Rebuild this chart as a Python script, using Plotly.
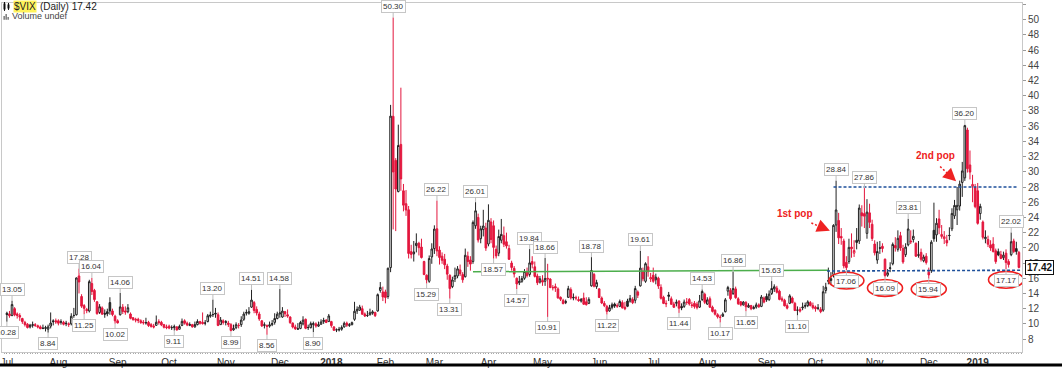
import pandas as pd
import plotly.graph_objects as go

# ---------------- data ----------------
HOLIDAYS = ["2017-07-04", "2017-09-04", "2017-11-23", "2017-12-25", "2018-01-01",
            "2018-01-15", "2018-02-19", "2018-03-30", "2018-05-28", "2018-07-04",
            "2018-09-03", "2018-11-22", "2018-12-05", "2018-12-25", "2019-01-01",
            "2019-01-21"]
START, END = "2017-07-03", "2019-01-25"

OPEN = [
    # Jul 2017
    11.40, 11.30, 11.10, 12.00, 11.30, 11.10, 10.70, 10.20, 9.95, 9.60, 9.80, 9.90, 9.75, 9.60, 9.40, 9.50, 9.30, 9.70, 10.40, 10.40,
    # Aug 2017
    10.40, 10.20, 10.20, 10.10, 10.00, 10.00, 11.10, 11.20, 16.30, 13.60, 12.40, 11.90, 11.70, 15.30, 14.40, 12.90, 11.50, 12.10, 11.40, 11.60, 12.80, 11.70, 11.00,
    # Sep 2017
    10.40, 11.20, 12.20, 11.70, 11.60, 11.30, 10.80, 10.60, 10.60, 10.40, 10.20, 10.10, 10.20, 9.90, 9.70, 9.80, 10.30, 10.20, 9.90, 9.60,
    # Oct 2017
    9.70, 9.50, 9.50, 9.60, 9.30, 9.80, 10.40, 10.10, 9.80, 9.90, 9.60, 9.90, 10.30, 10.20, 10.10, 10.30, 11.00, 11.20, 11.40, 11.20, 9.90, 10.40,
    # Nov 2017
    10.30, 10.10, 9.90, 9.20, 9.50, 9.80, 9.90, 10.60, 11.40, 11.40, 12.20, 12.80, 11.90, 11.30, 10.40, 9.80, 9.80, 9.70, 9.90, 10.20, 10.70,
    # Dec 2017
    11.30, 10.90, 11.60, 11.20, 10.90, 10.10, 9.60, 9.30, 9.40, 10.00, 10.60, 9.50, 9.50, 9.90, 10.00, 9.70, 9.95, 10.30, 10.50, 10.30,
    # Jan 2018
    10.30, 9.60, 9.20, 9.30, 9.30, 9.60, 10.10, 9.80, 9.90, 10.60, 11.70, 11.80, 12.00, 11.30, 11.10, 11.20, 11.40, 11.50, 11.70, 14.40, 14.20,
    # Feb 2018
    14.20, 13.60, 17.40, 37.30, 31.50, 27.40, 33.60, 27.50, 25.80, 25.00, 19.50, 19.20, 20.30, 20.60, 20.10, 18.20, 16.40, 15.60, 18.80,
    # Mar 2018
    19.90, 22.50, 19.70, 18.90, 18.50, 17.60, 16.40, 14.90, 15.90, 16.30, 17.10, 16.50, 16.20, 18.90, 18.40, 18.20, 22.90, 24.00, 21.20, 22.40, 22.60,
    # Apr 2018
    20.50, 23.40, 22.90, 19.80, 19.30, 21.00, 21.60, 20.80, 19.90, 18.00, 17.30, 16.00, 15.40, 15.60, 16.00, 16.90, 16.50, 18.20, 17.50, 16.30, 15.50,
    # May 2018
    15.70, 15.60, 16.00, 15.90, 14.80, 14.90, 14.60, 13.50, 13.10, 12.80, 13.50, 14.50, 13.50, 13.40, 13.20, 13.00, 13.40, 12.90, 12.70, 15.00, 16.50, 14.90,
    # Jun 2018
    14.60, 13.40, 12.70, 12.30, 11.70, 12.50, 12.60, 12.40, 12.30, 12.80, 12.20, 13.00, 13.00, 13.20, 13.10, 14.20, 15.00, 16.90, 15.60, 17.50, 15.90,
    # Jul 2018
    16.40, 15.80, 16.00, 14.80, 13.50, 12.70, 13.80, 13.30, 12.60, 12.70, 13.00, 12.30, 12.30, 12.80, 13.20, 12.50, 12.70, 12.60, 12.20, 13.20, 13.90,
    # Aug 2018
    12.60, 13.30, 12.20, 11.80, 11.20, 10.90, 11.00, 11.60, 14.30, 14.40, 14.00, 14.60, 13.30, 12.90, 12.50, 12.80, 12.20, 12.40, 12.00, 12.20, 12.50, 12.30, 13.40,
    # Sep 2018
    13.60, 13.20, 14.00, 14.60, 14.70, 14.30, 13.30, 13.10, 12.40, 12.70, 13.40, 12.70, 11.80, 11.90, 12.10, 12.30, 12.40, 12.80, 12.40,
    # Oct 2018
    12.20, 12.10, 11.90, 11.80, 14.40, 15.60, 15.70, 16.50, 23.00, 23.60, 21.50, 20.90, 18.10, 18.20, 20.10, 19.30, 21.00, 20.90, 24.60, 24.50, 21.90, 24.60, 23.10,
    # Nov 2018
    20.50, 18.40, 20.00, 20.20, 18.50, 16.40, 17.30, 17.90, 20.30, 19.80, 21.60, 19.90, 19.10, 20.40, 20.90, 21.10, 20.60, 19.10, 19.40, 18.30, 18.90,
    # Dec 2018
    16.80, 17.00, 22.30, 21.70, 23.80, 21.50, 21.20, 21.00, 21.60, 22.50, 24.20, 25.00, 25.50, 28.60, 29.20, 35.50, 30.90, 28.10, 27.90,
    # Jan 2019
    27.50, 24.50, 23.40, 21.20, 21.10, 20.40, 20.50, 19.60, 19.50, 19.10, 18.70, 19.30, 18.20, 19.10, 20.90, 19.90, 19.40,
]

HIGH = [
    11.60, 11.70, 13.05, 12.20, 11.50, 11.40, 10.80, 10.40, 10.10, 10.00, 10.30, 10.10, 9.90, 9.80, 9.90, 9.75, 9.90, 11.50, 10.60, 10.70,
    10.60, 10.60, 10.40, 10.40, 10.20, 11.40, 12.10, 16.10, 17.28, 13.90, 12.60, 12.10, 15.80, 16.04, 14.60, 13.00, 12.60, 12.30, 11.90, 12.00, 13.50, 12.00, 11.20,
    10.60, 14.06, 12.60, 12.30, 12.60, 11.50, 10.90, 10.80, 10.80, 10.60, 10.50, 10.80, 10.40, 10.10, 10.00, 11.10, 10.60, 10.40, 10.00, 9.90,
    9.90, 9.80, 9.90, 9.70, 9.90, 10.70, 10.60, 10.30, 10.20, 10.00, 10.30, 10.60, 10.40, 11.50, 10.50, 11.30, 11.60, 13.20, 12.10, 11.50, 10.90, 10.60,
    10.50, 10.40, 10.10, 9.90, 10.20, 10.10, 11.00, 11.60, 11.90, 12.20, 14.51, 13.00, 12.30, 11.60, 10.50, 10.20, 9.90, 10.30, 10.50, 11.40, 11.60,
    14.58, 12.20, 11.70, 11.90, 11.00, 10.20, 9.90, 10.10, 10.40, 11.00, 10.70, 9.90, 10.30, 10.30, 10.20, 10.30, 10.60, 10.80, 10.60, 11.30,
    10.40, 9.70, 9.40, 9.60, 9.80, 10.30, 10.30, 10.10, 10.30, 12.90, 12.30, 12.50, 12.40, 11.50, 11.70, 12.00, 11.80, 11.60, 14.00, 15.50, 14.90,
    14.50, 17.40, 38.80, 50.30, 31.80, 36.20, 41.06, 28.40, 27.60, 25.50, 20.40, 20.90, 21.90, 20.80, 21.20, 18.30, 16.50, 19.00, 20.60,
    22.96, 26.22, 20.20, 19.40, 19.20, 17.90, 16.50, 16.20, 17.40, 17.60, 17.80, 16.80, 19.90, 19.50, 18.90, 23.60, 26.01, 24.50, 22.90, 25.00, 23.30,
    25.72, 23.90, 23.60, 20.30, 22.40, 23.80, 22.80, 22.00, 20.40, 18.30, 17.60, 16.10, 16.30, 16.30, 17.20, 17.40, 19.84, 18.90, 18.20, 16.60, 16.30,
    16.40, 18.66, 17.90, 16.00, 15.10, 15.30, 14.80, 13.60, 13.30, 13.20, 15.00, 14.80, 14.00, 13.70, 13.60, 13.40, 14.10, 13.50, 13.50, 18.78, 16.70, 15.80,
    14.70, 13.60, 13.00, 12.50, 12.50, 12.80, 12.80, 12.70, 13.20, 13.10, 12.90, 13.30, 13.80, 13.50, 15.00, 14.40, 19.61, 17.40, 18.10, 18.90, 16.70,
    17.40, 16.60, 16.20, 15.20, 13.70, 13.10, 14.20, 13.60, 12.90, 13.20, 13.10, 12.70, 13.20, 13.40, 13.40, 12.90, 13.00, 12.90, 13.80, 14.53, 14.10,
    13.50, 13.60, 12.40, 11.90, 11.40, 11.20, 11.50, 13.40, 15.00, 14.70, 16.86, 14.90, 13.50, 13.00, 13.00, 13.00, 12.70, 12.50, 12.40, 12.80, 12.70, 13.80, 13.60,
    14.00, 14.40, 15.63, 15.20, 15.00, 14.50, 13.60, 13.30, 12.70, 13.90, 13.60, 12.90, 12.30, 12.20, 12.80, 12.80, 13.10, 13.00, 12.80,
    12.40, 12.60, 12.20, 15.00, 15.40, 17.40, 16.80, 23.10, 28.84, 24.60, 22.60, 21.20, 18.90, 21.20, 21.90, 21.00, 22.60, 25.70, 25.60, 27.86, 26.40, 25.80, 23.70,
    21.00, 20.80, 20.90, 20.60, 18.60, 17.20, 18.10, 20.70, 21.40, 22.30, 22.10, 20.40, 20.60, 23.81, 22.30, 22.40, 20.70, 20.90, 19.90, 19.10, 19.30,
    17.40, 21.00, 25.94, 23.90, 25.00, 23.00, 22.20, 21.70, 22.70, 25.20, 26.30, 28.00, 28.84, 31.30, 36.20, 35.80, 32.80, 29.60, 28.40,
    28.53, 25.80, 23.60, 22.30, 21.60, 21.00, 21.40, 19.90, 19.90, 19.60, 19.50, 19.80, 18.50, 22.02, 21.20, 20.80, 19.60,
]

LOW = [
    10.28, 10.80, 11.00, 11.00, 10.70, 10.40, 10.00, 9.65, 9.40, 9.40, 9.50, 9.60, 9.40, 9.30, 9.30, 9.00, 8.84, 9.40, 9.80, 10.00,
    9.80, 9.90, 9.80, 9.70, 9.60, 9.80, 10.80, 11.10, 14.00, 12.10, 11.25, 11.40, 11.50, 13.80, 12.90, 11.20, 11.30, 11.20, 10.80, 11.00, 11.20, 11.00, 10.02,
    10.05, 11.10, 11.30, 11.20, 11.40, 10.60, 10.40, 10.20, 10.10, 10.00, 9.90, 9.90, 9.60, 9.50, 9.40, 9.80, 9.90, 9.70, 9.40, 9.30,
    9.30, 9.20, 9.11, 9.15, 9.25, 9.70, 9.90, 9.70, 9.70, 9.50, 9.50, 9.80, 9.90, 9.90, 9.80, 10.20, 10.80, 10.90, 10.80, 9.70, 9.90, 9.90,
    9.80, 9.60, 8.99, 9.10, 9.30, 9.40, 9.60, 10.40, 11.10, 11.20, 12.10, 11.40, 11.10, 10.40, 9.60, 9.40, 8.56, 9.50, 9.70, 9.90, 10.60,
    10.80, 10.80, 10.90, 10.80, 10.00, 9.40, 9.20, 9.20, 9.30, 9.80, 9.30, 9.20, 9.40, 8.90, 9.50, 9.60, 9.90, 10.00, 10.10, 10.30,
    9.50, 9.10, 8.92, 9.00, 9.10, 9.50, 9.60, 9.60, 9.80, 10.40, 11.30, 11.70, 11.20, 10.90, 10.90, 11.10, 11.20, 10.90, 11.60, 14.10, 13.00,
    12.70, 13.30, 16.80, 22.42, 22.20, 27.30, 27.50, 24.80, 24.20, 18.60, 18.60, 18.20, 19.40, 19.00, 18.60, 16.40, 15.29, 15.40, 17.90,
    19.20, 18.90, 17.80, 17.90, 17.20, 15.80, 13.31, 14.70, 15.50, 16.00, 16.30, 15.40, 16.10, 17.50, 17.00, 17.90, 22.50, 20.70, 20.60, 21.50, 19.60,
    20.20, 20.60, 18.57, 18.60, 18.90, 20.60, 20.10, 19.90, 18.40, 17.00, 16.10, 14.57, 15.10, 15.40, 15.80, 16.10, 16.20, 17.30, 16.10, 15.10, 15.30,
    15.00, 15.00, 10.91, 14.70, 14.40, 14.20, 13.30, 13.00, 12.60, 12.60, 13.40, 13.20, 13.10, 13.10, 12.90, 12.80, 12.50, 12.40, 12.60, 14.90, 14.80, 14.60,
    13.40, 12.60, 12.20, 11.22, 11.60, 11.90, 12.10, 12.10, 12.20, 12.00, 11.80, 12.20, 12.80, 12.60, 12.70, 13.40, 14.90, 15.60, 15.40, 16.20, 15.50,
    15.40, 15.20, 14.60, 13.20, 12.60, 12.20, 13.00, 12.50, 12.10, 12.30, 11.44, 11.80, 12.10, 12.50, 12.40, 12.10, 12.00, 11.90, 12.10, 13.00, 12.60,
    12.50, 12.10, 11.50, 11.10, 10.70, 10.17, 10.90, 11.50, 13.70, 13.10, 13.80, 13.30, 12.50, 12.30, 12.40, 11.65, 12.10, 11.80, 11.90, 12.00, 12.10, 12.20, 12.70,
    12.90, 13.00, 13.80, 14.20, 14.00, 13.10, 12.90, 12.30, 11.90, 12.60, 12.70, 11.70, 11.10, 11.50, 11.80, 12.00, 12.20, 12.30, 11.90,
    11.60, 11.80, 11.40, 11.60, 14.00, 15.20, 15.10, 16.10, 22.10, 20.50, 20.40, 17.30, 17.06, 17.90, 18.70, 18.80, 19.80, 20.50, 22.80, 22.60, 21.20, 22.60, 20.90,
    19.00, 17.90, 19.20, 19.40, 16.09, 16.20, 16.80, 17.70, 19.50, 19.50, 19.60, 17.90, 18.80, 20.20, 20.50, 20.70, 18.80, 18.70, 18.20, 18.10, 17.80,
    15.94, 16.70, 20.80, 20.80, 21.80, 21.20, 20.50, 20.20, 21.00, 22.20, 23.80, 23.00, 24.90, 26.70, 28.80, 29.90, 29.00, 26.00, 25.20,
    23.05, 23.70, 21.10, 20.60, 20.10, 19.60, 19.40, 17.90, 18.90, 18.50, 18.40, 17.17, 17.40, 18.90, 19.30, 19.10, 17.30,
]

CLOSE = [
    11.22, 11.07, 12.54, 11.19, 11.11, 10.89, 10.30, 9.90, 9.51, 9.82, 9.89, 9.79, 9.58, 9.36, 9.43, 9.43, 9.60, 10.11, 10.29, 10.26,
    10.09, 10.28, 9.95, 10.03, 9.93, 11.00, 11.11, 16.04, 15.51, 12.33, 12.04, 11.74, 15.55, 14.26, 13.19, 11.35, 12.25, 11.28, 11.28, 11.32, 11.70, 11.22, 10.40,
    10.13, 12.23, 11.63, 11.55, 12.12, 10.73, 10.58, 10.50, 10.44, 10.17, 10.15, 10.18, 9.78, 9.67, 9.59, 10.21, 10.17, 9.87, 9.55, 9.51,
    9.45, 9.51, 9.63, 9.19, 9.65, 10.33, 10.08, 9.85, 9.91, 9.61, 9.91, 10.31, 10.07, 10.05, 10.11, 11.07, 11.16, 11.23, 11.30, 9.80, 10.50, 10.18,
    10.20, 9.93, 9.14, 9.40, 9.89, 9.78, 10.50, 11.29, 11.50, 11.59, 13.13, 11.76, 11.43, 10.65, 9.73, 9.88, 9.67, 9.87, 10.03, 10.70, 11.28,
    11.43, 11.68, 11.33, 11.02, 10.16, 9.58, 9.34, 9.35, 10.18, 10.49, 9.42, 9.53, 10.03, 10.03, 9.72, 9.90, 10.25, 10.47, 10.18, 11.04,
    9.77, 9.15, 9.22, 9.22, 9.52, 10.08, 9.82, 9.88, 10.16, 11.66, 11.91, 12.22, 11.27, 11.03, 11.10, 11.47, 11.58, 11.08, 13.84, 14.79, 13.54,
    13.47, 17.31, 37.32, 29.98, 27.73, 33.46, 29.06, 25.61, 24.97, 19.26, 19.13, 19.46, 20.60, 20.02, 18.72, 16.49, 15.80, 18.59, 19.85,
    22.47, 19.59, 18.73, 18.36, 17.76, 16.54, 14.64, 15.78, 16.35, 17.23, 16.59, 15.80, 19.02, 18.20, 17.86, 23.34, 24.87, 21.03, 22.50, 22.87, 19.97,
    23.62, 21.10, 20.06, 18.94, 21.49, 21.77, 20.47, 20.24, 18.49, 17.41, 16.56, 15.25, 15.60, 15.96, 16.88, 16.34, 18.02, 17.84, 16.24, 15.41, 15.93,
    15.49, 15.97, 15.90, 14.77, 14.75, 14.71, 13.42, 13.23, 12.65, 12.93, 14.63, 13.42, 13.43, 13.42, 13.08, 13.22, 12.58, 12.53, 13.22, 17.02, 14.94, 15.43,
    13.46, 12.74, 12.40, 11.64, 12.13, 12.18, 12.35, 12.34, 12.94, 12.12, 11.98, 12.31, 13.35, 12.79, 14.64, 13.77, 17.33, 15.92, 17.91, 16.85, 16.09,
    15.60, 16.14, 14.97, 13.37, 12.69, 12.64, 13.63, 12.58, 12.18, 12.83, 12.06, 12.10, 12.87, 12.86, 12.62, 12.41, 12.29, 12.14, 13.03, 14.26, 12.83,
    13.15, 12.19, 11.64, 11.27, 10.93, 10.85, 11.27, 13.16, 14.78, 13.31, 14.64, 13.45, 12.64, 12.49, 12.86, 12.25, 12.41, 11.99, 12.16, 12.50, 12.25, 13.53, 12.86,
    13.16, 13.91, 14.65, 14.88, 14.16, 13.22, 13.14, 12.37, 12.07, 13.68, 12.79, 11.75, 11.80, 11.68, 12.20, 12.42, 12.89, 12.41, 12.12,
    12.00, 12.05, 11.61, 14.22, 14.82, 15.69, 15.95, 22.96, 24.98, 21.31, 21.30, 17.62, 17.40, 20.06, 19.89, 19.64, 20.71, 25.23, 24.22, 24.16, 24.70, 23.35, 21.23,
    19.34, 19.51, 19.96, 19.91, 16.36, 16.72, 17.36, 20.45, 20.02, 21.25, 19.98, 18.14, 20.10, 22.48, 20.80, 21.52, 18.90, 19.02, 18.49, 18.79, 18.07,
    16.44, 20.74, 21.19, 23.23, 22.64, 21.76, 21.46, 20.65, 21.63, 24.52, 25.58, 25.58, 28.38, 30.11, 36.07, 30.41, 29.96, 28.34, 25.42,
    23.22, 25.45, 21.38, 21.40, 20.47, 19.98, 19.50, 18.19, 19.07, 18.60, 19.04, 18.06, 17.80, 20.80, 19.52, 19.52, 17.42,
]

# bars carrying a value box (index into the series)
HIGH_LABELS = [2, 28, 33, 44, 80, 95, 106, 150, 167, 182, 203, 209, 227, 246, 270, 282, 297, 322, 333, 350, 372, 390]
LOW_LABELS = [0, 16, 30, 42, 65, 87, 101, 119, 163, 172, 189, 198, 210, 233, 261, 277, 287, 307, 326, 341, 358, 388]
CIRCLED_LOWS = [326, 341, 358, 388]

# drawn levels
SUPPORT_GREEN = (181, 16.85, 319, 17.05)
RESIST_BLUE = (321, 28.0, 392.5, 28.0)
SUPPORT_BLUE = (318.5, 16.95, 393.5, 17.05)

# ---------------- build ----------------
dates = pd.bdate_range(START, END, freq="C", holidays=HOLIDAYS)
n = len(CLOSE)
assert len(dates) == n == len(OPEN) == len(HIGH) == len(LOW)
idx = list(range(n))

prev = [CLOSE[0]] + CLOSE[:-1]
up = [CLOSE[i] >= prev[i] for i in idx]

BLACK = "#222222"
RED = "#e3163d"


def sub(cond):
    ii = [i for i in idx if cond(i)]
    return dict(x=ii, open=[OPEN[i] for i in ii], high=[HIGH[i] for i in ii],
                low=[LOW[i] for i in ii], close=[CLOSE[i] for i in ii])


fig = go.Figure()
fig.add_trace(go.Candlestick(
    **sub(lambda i: up[i]),
    increasing=dict(line=dict(color=BLACK, width=1), fillcolor="white"),
    decreasing=dict(line=dict(color=BLACK, width=1), fillcolor=BLACK),
    whiskerwidth=0, hoverinfo="skip", name="up"))
fig.add_trace(go.Candlestick(
    **sub(lambda i: not up[i]),
    increasing=dict(line=dict(color=RED, width=1), fillcolor="white"),
    decreasing=dict(line=dict(color=RED, width=1), fillcolor=RED),
    whiskerwidth=0, hoverinfo="skip", name="down"))

# month ticks
tickvals, ticktext = [], []
for i, d in enumerate(dates):
    if i == 0 or d.month != dates[i - 1].month:
        tickvals.append(i)
        ticktext.append(f"<b>{d.year}</b>" if d.month == 1 else d.strftime("%b"))

FONT = "Liberation Sans, Arial, sans-serif"
ann = []
box = dict(showarrow=True, arrowhead=0, arrowwidth=1, arrowcolor="#bdbdbd", ax=0,
           font=dict(size=8, family=FONT, color="#333"), bgcolor="white",
           bordercolor="#c6c6c6", borderwidth=1, borderpad=1)
for i in HIGH_LABELS:
    ann.append(dict(x=i, y=HIGH[i], text=f"{HIGH[i]:.2f}", ay=-11, **box))
for i in LOW_LABELS:
    ann.append(dict(x=i, y=LOW[i], text=f"{LOW[i]:.2f}", ay=11, **box))

shapes = []
PXU = 352 / (52.2 - 6.3)  # pixels per VIX point
for i in CIRCLED_LOWS:
    cy = LOW[i] - 10.5 / PXU
    shapes.append(dict(type="circle", xref="x", yref="y", x0=i - 6.8, x1=i + 6.8,
                       y0=cy - 8.5 / PXU, y1=cy + 8.5 / PXU,
                       line=dict(color="#ee2020", width=1.6)))

x0, y0, x1, y1 = SUPPORT_GREEN
shapes.append(dict(type="line", xref="x", yref="y", x0=x0, y0=y0, x1=x1, y1=y1,
                   line=dict(color="#4cae4c", width=1.5)))
for (x0, y0, x1, y1) in (RESIST_BLUE, SUPPORT_BLUE):
    shapes.append(dict(type="line", xref="x", yref="y", x0=x0, y0=y0, x1=x1, y1=y1,
                       line=dict(color="#1d4f9a", width=1.6, dash="3px,2px")))

# callouts
POP_RED = "#ee2222"
for label, (tx, ty), (sx, sy), (ex, ey), (hx, hy) in [
    ("1st pop", (306.2, 24.56), (312.4, 23.26), (317.0, 22.62), (319.6, 22.25)),
    ("2nd pop", (360.5, 32.10), (362.4, 30.69), (366.4, 29.45), (368.6, 28.75)),
]:
    ann.append(dict(x=tx, y=ty, text=f"<b>{label}</b>", showarrow=False,
                    font=dict(size=10, family=FONT, color=POP_RED)))
    shapes.append(dict(type="line", xref="x", yref="y", x0=sx, y0=sy, x1=ex, y1=ey,
                       line=dict(color=POP_RED, width=1.5, dash="2px,2px")))
    ann.append(dict(x=hx, y=hy, ax=ex, ay=ey, axref="x", ayref="y", text="",
                    showarrow=True, arrowhead=2, arrowsize=1.3, arrowwidth=2,
                    arrowcolor=POP_RED))

# last price box on the axis
ann.append(dict(x=1.0, xref="paper", y=CLOSE[-1], yref="y", xanchor="left", xshift=3,
                text=f"<b>{CLOSE[-1]:.2f}</b>", showarrow=False,
                font=dict(size=10, family=FONT, color="#111"), bgcolor="white",
                bordercolor="#111", borderwidth=1, borderpad=1))

# title block top-left
PLOT_W, PLOT_T, PLOT_B = 1021, 3, 355


def px(xp):
    return (xp - 1) / PLOT_W


def py(yp):
    return (PLOT_B - yp) / (PLOT_B - PLOT_T)


ann.append(dict(x=px(12), y=py(6.5), xref="paper", yref="paper", xanchor="left",
                yanchor="middle", text="$VIX", showarrow=False, bgcolor="#fff35c",
                borderpad=0, font=dict(size=10, family=FONT, color="#222")))
ann.append(dict(x=px(37), y=py(6.5), xref="paper", yref="paper", xanchor="left",
                yanchor="middle", text=f"(Daily) {CLOSE[-1]:.2f}", showarrow=False,
                font=dict(size=10, family=FONT, color="#222")))
ann.append(dict(x=px(9), y=py(16.5), xref="paper", yref="paper", xanchor="left",
                yanchor="middle", text="Volume undef", showarrow=False,
                font=dict(size=9, family=FONT, color="#444")))
# small icons (candle glyph and volume glyph)
for (a, b, c, d) in [(2.5, 3.5, 4.5, 9.5), (6.5, 4.5, 8.5, 8.5)]:
    shapes.append(dict(type="rect", xref="paper", yref="paper", x0=px(a), x1=px(c),
                       y0=py(d), y1=py(b), fillcolor="#111", line=dict(width=0)))
for (a, b, c) in [(3.5, 2, 11), (7.5, 3, 10)]:
    shapes.append(dict(type="line", xref="paper", yref="paper", x0=px(a), x1=px(a),
                       y0=py(c), y1=py(b), line=dict(color="#111", width=1)))
for (a, h) in [(2.5, 4), (4.5, 6), (6.5, 3)]:
    shapes.append(dict(type="rect", xref="paper", yref="paper", x0=px(a), x1=px(a + 1.3),
                       y0=py(20), y1=py(20 - h), fillcolor="#666", line=dict(width=0)))

# screenshot frame line at the very bottom
shapes.append(dict(type="rect", xref="paper", yref="paper", x0=-0.01, x1=1.06,
                   y0=py(369.5), y1=py(366.5), fillcolor="#000", line=dict(width=0)))

fig.update_layout(
    width=1062, height=369,
    margin=dict(l=1, r=40, t=PLOT_T, b=369 - PLOT_B),
    paper_bgcolor="white", plot_bgcolor="white",
    showlegend=False, boxgap=0.1,
    annotations=ann, shapes=shapes,
    xaxis=dict(range=[-1.9, 394.2], tickmode="array", tickvals=tickvals, ticktext=ticktext,
               ticks="outside", ticklen=1, tickcolor="#999", showline=True,
               linecolor="#c8c8c8", mirror=True, showgrid=False, zeroline=False,
               rangeslider=dict(visible=False),
               tickfont=dict(size=10, family=FONT, color="#333"),
               minor=dict(tickmode="linear", tick0=0, dtick=1, ticks="outside",
                          ticklen=1, tickcolor="#aaa", showgrid=False)),
    yaxis=dict(side="right", range=[6.3, 52.2], tickmode="linear", tick0=8, dtick=2,
               ticks="outside", ticklen=3, tickcolor="#999", showline=True,
               linecolor="#c8c8c8", mirror=True, showgrid=False, zeroline=False,
               tickfont=dict(size=10, family=FONT, color="#444")),
)

fig.write_html("out.html", config={"displayModeBar": False})
